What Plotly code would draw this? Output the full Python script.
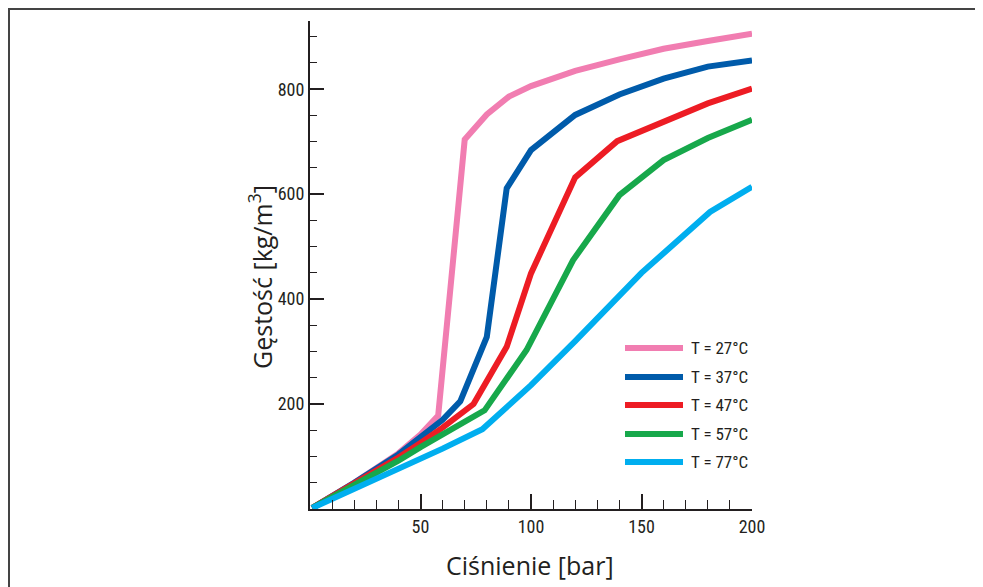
import plotly.graph_objects as go

# ---- data ----
p27 = [1, 20, 40, 50, 58, 70, 80, 90, 100, 120, 140, 160, 180, 200]
d27 = [2, 50, 106, 142, 178, 704, 752, 786, 806, 835, 857, 877, 892, 906]

p37 = [1, 20, 40, 50, 60, 68, 80, 89, 100, 120, 140, 160, 180, 200]
d37 = [2, 50, 104, 136, 170, 205, 328, 611, 684, 751, 790, 820, 843, 855]

p47 = [1, 20, 40, 50, 60, 74, 89, 100, 120, 139, 160, 180, 200]
d47 = [2, 48, 98, 126, 155, 200, 309, 449, 632, 701, 739, 773, 801]

p57 = [1, 20, 40, 50, 60, 79, 98, 119, 140, 160, 180, 200]
d57 = [2, 45, 92, 118, 142, 188, 303, 474, 598, 665, 707, 742]

p77 = [1, 20, 40, 50, 60, 78, 100, 120, 150, 181, 200]
d77 = [2, 38, 78, 97, 115, 152, 236, 320, 450, 566, 614]

series_names = ["T = 27°C", "T = 37°C", "T = 47°C", "T = 57°C", "T = 77°C"]
series_x = [p27, p37, p47, p57, p77]
series_y = [d27, d37, d47, d57, d77]
colors = ["#F17DB1", "#005BAA", "#ED1C24", "#17A84B", "#00AEEF"]

x_ticks = [50, 100, 150, 200]
y_ticks = [200, 400, 600, 800]

# page body adds an 8px margin, so the figure is drawn 8px in from the window edge
OFF = 8
W, H = 983 - OFF, 587 - OFF
L, R, T, B = 310 - OFF, 983 - 752, 21 - OFF, 587 - 509
pw, ph = W - L - R, H - T - B

def px(x):
    return (x - OFF - L) / pw

def py(y):
    return (H - B - (y - OFF)) / ph

fig = go.Figure()
for name, xs, ys, c in zip(series_names, series_x, series_y, colors):
    fig.add_trace(go.Scatter(x=xs, y=ys, mode="lines", name=name,
                             line=dict(color=c, width=6), showlegend=False))

narrow = "Liberation Sans Narrow, Roboto Condensed, Liberation Sans, sans-serif"
tick_font = dict(family=narrow, size=18, color="#231F20")
title_font = dict(family="Open Sans, Noto Sans, sans-serif", size=25, color="#231F20")

fig.update_xaxes(range=[0, 200], tickvals=x_ticks, ticks="inside", ticklen=15, tickwidth=2,
                 tickcolor="#231F20", showline=True, linecolor="#231F20", linewidth=2,
                 showgrid=False, zeroline=False, tickfont=tick_font,
                 minor=dict(dtick=10, tick0=0, ticks="inside", ticklen=9, tickwidth=1,
                            tickcolor="#231F20", showgrid=False))
fig.update_yaxes(range=[0, 930], tickvals=y_ticks, ticks="inside", ticklen=14, tickwidth=2,
                 tickcolor="#231F20", showline=True, linecolor="#231F20", linewidth=2,
                 showgrid=False, zeroline=False, tickfont=tick_font,
                 minor=dict(dtick=50, tick0=0, ticks="inside", ticklen=7, tickwidth=1,
                            tickcolor="#231F20", showgrid=False))

shapes = []
annotations = []
# frame lines (top and left)
shapes.append(dict(type="line", xref="paper", yref="paper", x0=px(8), x1=px(983), y0=py(9), y1=py(9),
                   line=dict(color="#444444", width=2)))
shapes.append(dict(type="line", xref="paper", yref="paper", x0=px(9), x1=px(9), y0=py(8), y1=py(587),
                   line=dict(color="#444444", width=2)))

# legend
leg_y = [348, 377, 405, 434, 462]
for name, c, ly in zip(series_names, colors, leg_y):
    shapes.append(dict(type="line", xref="paper", yref="paper", x0=px(625), x1=px(683),
                       y0=py(ly), y1=py(ly), line=dict(color=c, width=6)))
    annotations.append(dict(xref="paper", yref="paper", x=px(689), y=py(ly), text=name,
                            showarrow=False, xanchor="left", yanchor="middle",
                            font=dict(family=narrow, size=17, color="#231F20")))

annotations.append(dict(xref="paper", yref="paper", x=px(530), y=py(565),
                        text="Ciśnienie [bar]", showarrow=False, xanchor="center",
                        yanchor="middle", font=title_font))
annotations.append(dict(xref="paper", yref="paper", x=px(260), y=py(277),
                        text="Gęstość [kg/m<sup>3</sup>]", showarrow=False, xanchor="center",
                        yanchor="middle", textangle=-90, font=title_font))

fig.update_layout(width=W, height=H, margin=dict(l=L, r=R, t=T, b=B),
                  plot_bgcolor="white", paper_bgcolor="white",
                  shapes=shapes, annotations=annotations, showlegend=False)

fig.write_html("out.html")
